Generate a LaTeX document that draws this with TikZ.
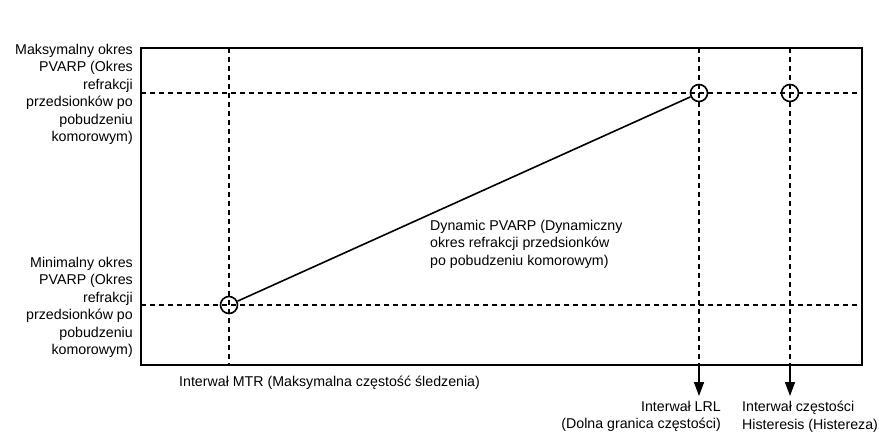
\documentclass[tikz,border=0pt]{standalone}
\usepackage{fontspec}
\setmainfont{Liberation Sans}
\usetikzlibrary{arrows.meta}
\tikzset{
  lbl/.style={inner sep=0pt, font=\fontsize{14.2bp}{17.4bp}\selectfont},
  guide/.style={line width=1.6bp, dash pattern=on 5bp off 4bp},
  frame/.style={line width=2.2bp},
  pt/.style={circle, draw, line width=1.6bp, minimum size=17bp, inner sep=0pt},
  trend/.style={line width=1.6bp},
  outarrow/.style={line width=1.6bp, -{Triangle[length=14bp,width=10bp]}}
}
\begin{document}
\begin{tikzpicture}[x=1bp,y=-1bp]
\useasboundingbox (0,0) rectangle (879,432);
% frame
\coordinate (tl) at (141,48);
\coordinate (br) at (862,365);
\draw[frame] (tl) rectangle (br);
% guides
\coordinate (mtrT) at (229,48);  \coordinate (mtrB) at (229,365);
\coordinate (lrlT) at (699,48);  \coordinate (lrlB) at (699,365);
\coordinate (hysT) at (790,48);  \coordinate (hysB) at (790,365);
\coordinate (maxL) at (141,93);  \coordinate (maxR) at (862,93);
\coordinate (minL) at (141,305); \coordinate (minR) at (862,305);
\draw[guide] (mtrT) -- (mtrB);
\draw[guide] (lrlT) -- (lrlB);
\draw[guide] (hysT) -- (hysB);
\draw[guide] (maxL) -- (maxR);
\draw[guide] (minL) -- (minR);
% points
\node[pt] (c1) at (229,305) {};
\node[pt] (c2) at (699,93) {};
\node[pt] (c3) at (790,93) {};
\draw[trend] (c1) -- (c2);
% arrows
\coordinate (lrlE) at (699,396);
\coordinate (hysE) at (790,396);
\draw[outarrow] (lrlB) -- (lrlE);
\draw[outarrow] (hysB) -- (hysE);
% labels
\node[lbl, align=right, anchor=north east] (maxlbl) at (133,44) {Maksymalny okres\\PVARP (Okres\\refrakcji\\przedsionków po\\pobudzeniu\\komorowym)};
\node[lbl, align=right, anchor=north east] (minlbl) at (133,257) {Minimalny okres\\PVARP (Okres\\refrakcji\\przedsionków po\\pobudzeniu\\komorowym)};
\node[lbl, align=left, anchor=north west] (mtrlbl) at (179,376) {Interwał MTR (Maksymalna częstość śledzenia)};
\node[lbl, align=left, anchor=north west] (dynlbl) at (430,220) {Dynamic PVARP (Dynamiczny\\okres refrakcji przedsionków\\po pobudzeniu komorowym)};
\node[lbl, align=right, anchor=north east] (lrllbl) at (721,401) {Interwał LRL\\(Dolna granica częstości)};
\node[lbl, align=left, anchor=north west] (hyslbl) at (742,401) {Interwał częstości\\Histeresis (Histereza)};
\end{tikzpicture}
\end{document}
